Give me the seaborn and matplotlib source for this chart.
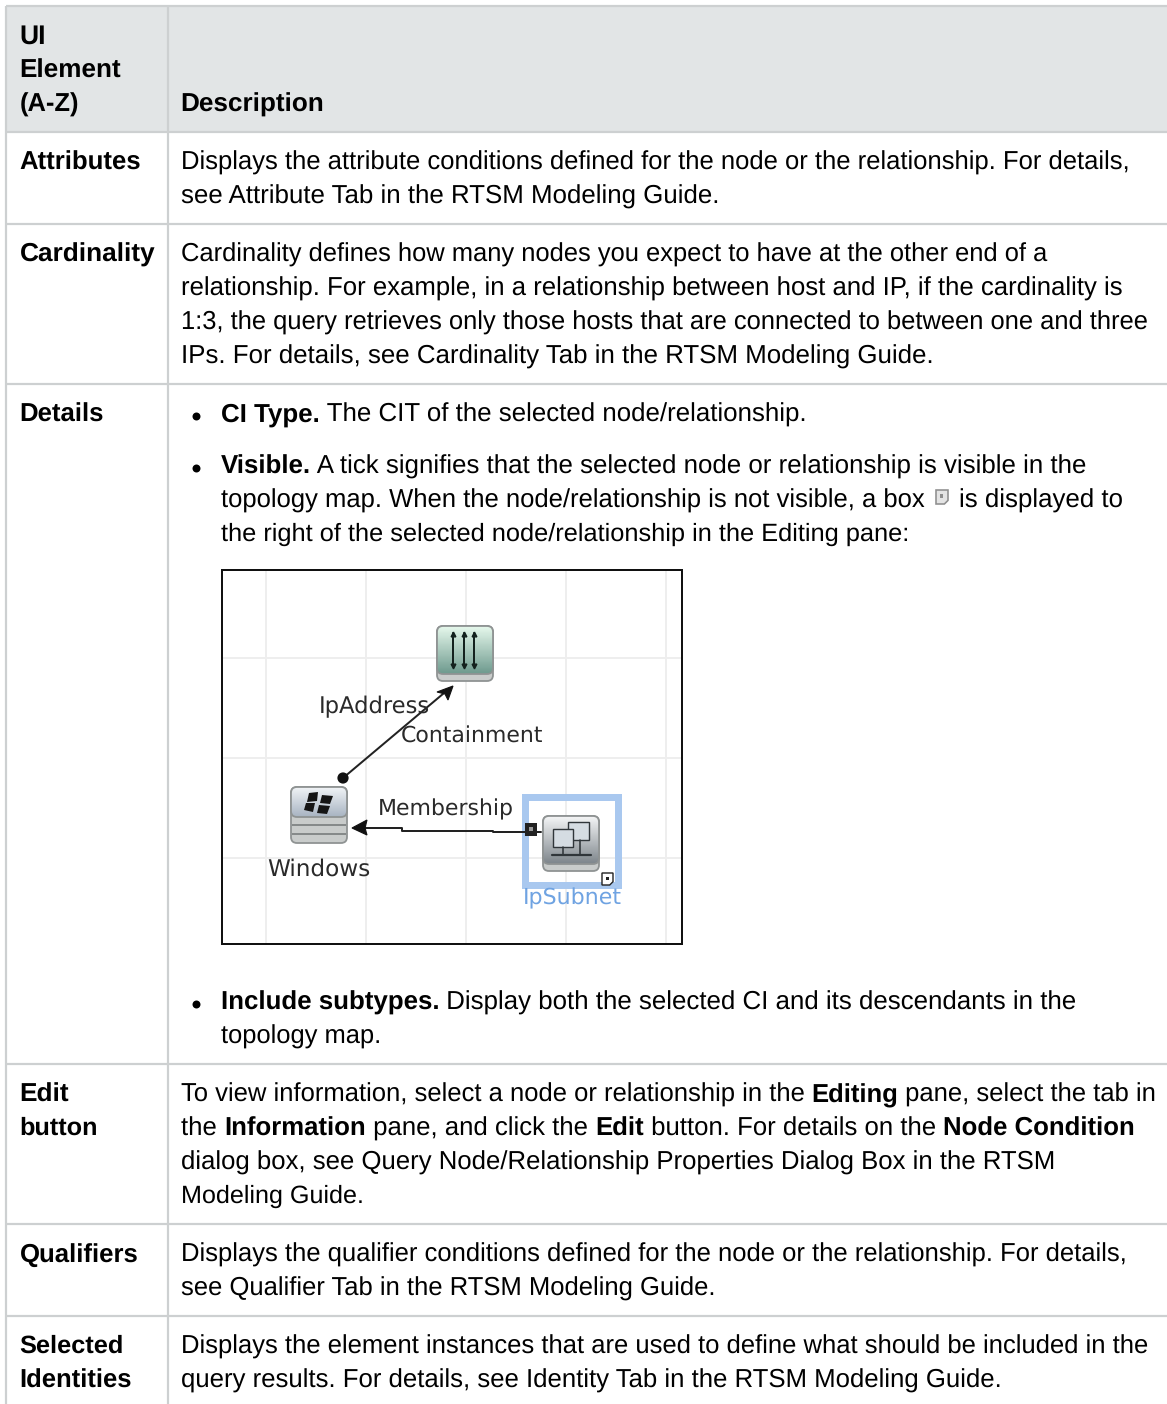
#!/usr/bin/env python
# -*- coding: utf-8 -*-
"""
plot.py
UI element table (A-Z) with the small topology map, drawn in pixel coordinates
"""

import numpy as np
import matplotlib.pyplot as plt
from matplotlib.colors import to_rgb
from matplotlib.patches import Rectangle, FancyBboxPatch, Polygon, Circle
import seaborn as sns

W, H = 1167, 1404
DPI = 100
FONT = 'Liberation Sans'
FS = 18.3
PT = 72 / DPI  # un pixel en puntos

# Tabla
HEADER_COL1 = ['UI', 'Element', '(A-Z)']
HEADER_COL1_Y = [44, 78, 112]
HEADER_COL1_END = [46, 121, 79]
HEADER_COL2 = 'Description'
RULES_Y = [132, 224, 384, 1064, 1224, 1316]

LABELS = ['Attributes', 'Cardinality', 'Details', 'Edit', 'button',
          'Qualifiers', 'Selected', 'Identities']
LABELS_Y = [170, 262, 422, 1102, 1135, 1262, 1353, 1388]
LABELS_END = [141, 155, 104, 69, 98, 138, 124, 132]

DESC_LINES = [
    'Displays the attribute conditions defined for the node or the relationship. For details,',
    'see Attribute Tab in the RTSM Modeling Guide.',
    'Cardinality defines how many nodes you expect to have at the other end of a',
    'relationship. For example, in a relationship between host and IP, if the cardinality is',
    '1:3, the query retrieves only those hosts that are connected to between one and three',
    'IPs. For details, see Cardinality Tab in the RTSM Modeling Guide.',
    'Modeling Guide.',
    'Displays the qualifier conditions defined for the node or the relationship. For details,',
    'see Qualifier Tab in the RTSM Modeling Guide.',
    'Displays the element instances that are used to define what should be included in the',
    'query results. For details, see Identity Tab in the RTSM Modeling Guide.',
]
DESC_Y = [170, 204, 262, 296, 330, 364, 1203, 1262, 1296, 1354, 1388]
DESC_END = [1128, 718, 1047, 1120, 1147, 932, 364, 1123, 716, 1147, 1002]

# Lineas con tramos en negrita: (y, x, x final, [(texto, negrita), ...])
RICH_LINES = [
    (422, 221, 807, [('CI Type.', True), (' The CIT of the selected node/relationship.', False)]),
    (474, 221, 1087, [('Visible.', True), (' A tick signifies that the selected node or relationship is visible in the', False)]),
    (508, 221, 923, [('topology map. When the node/relationship is not visible, a box', False)]),
    (508, 959, 1123, [('is displayed to', False)]),
    (541, 221, 909, [('the right of the selected node/relationship in the Editing pane:', False)]),
    (1010, 221, 1075, [('Include subtypes.', True), (' Display both the selected CI and its descendants in the', False)]),
    (1044, 221, 381, [('topology map.', False)]),
    (1102, 181, 1155, [('To view information, select a node or relationship in the ', False), ('Editing', True),
                       (' pane, select the tab in', False)]),
    (1136, 181, 1135, [('the ', False), ('Information', True), (' pane, and click the ', False), ('Edit', True),
                       (' button. For details on the ', False), ('Node Condition', True)]),
    (1170, 181, 1053, [('dialog box, see Query Node/Relationship Properties Dialog Box in the RTSM', False)]),
]
BULLET_X = [196, 196, 196]
BULLET_Y = [416, 468, 1004]

# Mapa
MAP_GRID_X = [266, 366, 466, 566, 666]
MAP_GRID_Y = [658, 758, 858]
MAP_LABELS = ['IpAddress', 'Containment', 'Membership', 'Windows', 'IpSubnet']
MAP_LABELS_X = [319, 401, 378, 267, 523]
MAP_LABELS_Y = [713, 743, 815, 876, 904]
MAP_LABELS_END = [430, 543, 514, 370, 622]
MAP_LABELS_COLOR = ['#2A2A2A', '#2A2A2A', '#2A2A2A', '#2A2A2A', '#6FA3E2']

sns.set_theme(style='white')
plt.rcParams['font.family'] = [FONT, 'DejaVu Sans']
plt.rcParams['text.hinting'] = 'no_hinting'

fig = plt.figure(figsize=(W / DPI, H / DPI), dpi=DPI, facecolor='white')
ax = fig.add_axes([0, 0, 1, 1])
ax.set_axis_off()
ax.set_xlim(0, W)
ax.set_ylim(H, 0)

# Fondo de cabecera y reglas
RULE = '#CDD0D1'
ax.add_patch(Rectangle((6, 6), W - 6, 126, fc='#E2E5E6', ec='none', zorder=1))
ax.hlines([6] + RULES_Y, 6, W, color=RULE, lw=2.2 * PT, zorder=2)
ax.vlines([6, 168], 6, H, color=RULE, lw=2.2 * PT, zorder=2)

renderer = fig.canvas.get_renderer()


def ancho(texto, bold, family=FONT):
    # con x a los lados para que cuenten los espacios
    w = []
    for s in ('x' + texto + 'x', 'xx'):
        t = ax.text(0, 0, s, fontsize=FS, family=family, fontweight='bold' if bold else 'normal')
        w.append(t.get_window_extent(renderer).width)
        t.remove()
    return w[0] - w[1]


def escribir(x, y, texto, bold=False, fs=FS):
    ax.text(x, y, texto, fontsize=fs, fontweight='bold' if bold else 'normal',
            color='black', va='baseline', ha='left', zorder=5)


def linea(x, y, fin, runs):
    # ajusta el cuerpo de la linea para que acabe donde en la referencia
    total = sum(ancho(s, b) for s, b in runs)
    fs = FS * (fin - x) / total
    for s, b in runs:
        escribir(x, y, s, b, fs)
        x += ancho(s, b) * fs / FS


for s, y, fin in zip(HEADER_COL1, HEADER_COL1_Y, HEADER_COL1_END):
    linea(19.5, y, fin, [(s, True)])
linea(180.5, HEADER_COL1_Y[2], 324, [(HEADER_COL2, True)])
for s, y, fin in zip(LABELS, LABELS_Y, LABELS_END):
    linea(19.5, y, fin, [(s, True)])
for s, y, fin in zip(DESC_LINES, DESC_Y, DESC_END):
    linea(181, y, fin, [(s, False)])
for y, x, fin, runs in RICH_LINES:
    linea(x, y, fin, runs)

sns.scatterplot(x=BULLET_X, y=BULLET_Y, ax=ax, color='black', s=33, linewidth=0, zorder=5)
ax.set_xlim(0, W)
ax.set_ylim(H, 0)

# Mapa de topologia
ax.add_patch(Rectangle((222, 570), 460, 374, fc='white', ec='#111111', lw=2 * PT, zorder=3))
ax.vlines(MAP_GRID_X, 571, 943, color='#EEEEEE', lw=2 * PT, zorder=3)
ax.hlines(MAP_GRID_Y, 223, 681, color='#EEEEEE', lw=2 * PT, zorder=3)


def gradiente(x0, y0, w, h, c_top, c_bot, r=6, z=6):
    patch = FancyBboxPatch((x0 + r, y0 + r), w - 2 * r, h - 2 * r, boxstyle=f'round,pad={r},rounding_size={r}',
                           fc='none', ec='#8F9393', lw=1.8 * PT, zorder=z + 0.5)
    ax.add_patch(patch)
    c0 = np.array(to_rgb(c_top))
    c1 = np.array(to_rgb(c_bot))
    t = np.linspace(0, 1, 40)[:, None, None]
    img = c0[None, None, :] * (1 - t) + c1[None, None, :] * t
    im = ax.imshow(img, extent=(x0, x0 + w, y0 + h, y0), aspect='auto', zorder=z)
    im.set_clip_path(patch)


def base(x0, y0, w, h, r=6):
    ax.add_patch(FancyBboxPatch((x0 + r, y0 + r), w - 2 * r, h - 2 * r, boxstyle=f'round,pad={r},rounding_size={r}',
                                fc='#C9CCCB', ec='#8F9393', lw=1.8 * PT, zorder=5.5))


# icono IpAddress
base(437, 626, 56, 55)
gradiente(437, 626, 56, 48, '#E6F8EC', '#6E9A8E')
for x in (453, 464, 474):
    ax.plot([x, x], [633, 666], color='#14211E', lw=2 * PT, zorder=8)
    ax.plot([x], [634], marker='^', ms=3.4, color='#14211E', zorder=8)
    ax.plot([x], [666], marker='v', ms=3.4, color='#14211E', zorder=8)

# icono Windows
base(291, 787, 56, 56)
ax.hlines([825, 834], 292, 346, color='#7F8383', lw=1.8 * PT, zorder=7)
gradiente(291, 787, 56, 30, '#F0F3F6', '#A8B4C2')
for pts in ([(309, 793), (318, 792), (317, 801), (307, 802)],
            [(322, 795), (333, 796), (330, 804), (320, 803)],
            [(306, 803), (315, 803), (313, 812), (304, 810)],
            [(319, 805), (330, 806), (327, 814), (317, 813)]):
    ax.add_patch(Polygon(pts, fc='#151515', ec='none', zorder=8))

# seleccion e icono IpSubnet
ax.add_patch(Rectangle((525, 796.5), 92.5, 88.5, fc='none', ec='#A9C8EF', lw=7 * PT, zorder=4))
base(543, 816, 56, 55)
gradiente(543, 816, 56, 48, '#F4F5F6', '#7E868C')
ax.add_patch(Rectangle((568, 822), 21, 18, fc='#D5DCE2', ec='#30363A', lw=1.4 * PT, zorder=8))
ax.add_patch(Rectangle((553, 829), 20, 18, fc='#D5DCE2', ec='#30363A', lw=1.4 * PT, zorder=8))
ax.plot([552, 591], [855, 855], color='#30363A', lw=2.2 * PT, zorder=8)
ax.plot([563, 563], [847, 855], color='#30363A', lw=1.6 * PT, zorder=8)
ax.plot([580, 580], [840, 855], color='#30363A', lw=1.6 * PT, zorder=8)


def nota(x0, y0, w, h, fc, ec, lw):
    d = w * 0.3
    ax.add_patch(Polygon([(x0, y0), (x0 + w, y0), (x0 + w, y0 + h - d), (x0 + w - d, y0 + h), (x0, y0 + h)],
                         fc=fc, ec=ec, lw=lw * PT, zorder=9))
    ax.add_patch(Rectangle((x0 + w * 0.36, y0 + h * 0.32), w * 0.26, h * 0.24, fc=ec, ec='none', zorder=9.5))


nota(602, 873, 11, 12, 'white', '#222222', 1.4)
nota(936, 490, 12, 14, '#E4E4E4', '#8E8E8E', 1.6)

# relaciones
ax.plot([343, 450], [778, 688], color='#222222', lw=2 * PT, zorder=7)
ax.add_patch(Polygon([(453, 686), (437, 692), (445, 694), (448, 700)], fc='#111111', ec='#111111', lw=0.8, zorder=8))
ax.add_patch(Circle((343, 778), 5.6, fc='#111111', ec='none', zorder=8))
ax.plot([541, 493, 493, 402, 402, 358], [832, 832, 831, 831, 828, 828], color='#222222', lw=2 * PT, zorder=7)
ax.add_patch(Polygon([(352, 828), (367, 820), (365, 828), (367, 835)], fc='#111111', ec='#111111', lw=0.8, zorder=8))
ax.add_patch(Rectangle((525, 823), 12, 13, fc='#222222', ec='none', zorder=8))
ax.add_patch(Rectangle((529, 827), 4, 4, fc='#9A9A9A', ec='none', zorder=8.5))

for s, x, y, fin, c in zip(MAP_LABELS, MAP_LABELS_X, MAP_LABELS_Y, MAP_LABELS_END, MAP_LABELS_COLOR):
    fs = FS * (fin - x) / ancho(s, False, 'DejaVu Sans')
    ax.text(x, y, s, fontsize=fs, family='DejaVu Sans', color=c, va='baseline', ha='left', zorder=10)

ax.set_xlim(0, W)
ax.set_ylim(H, 0)

fig.savefig('out.png', dpi=DPI, facecolor='white')
plt.close(fig)
